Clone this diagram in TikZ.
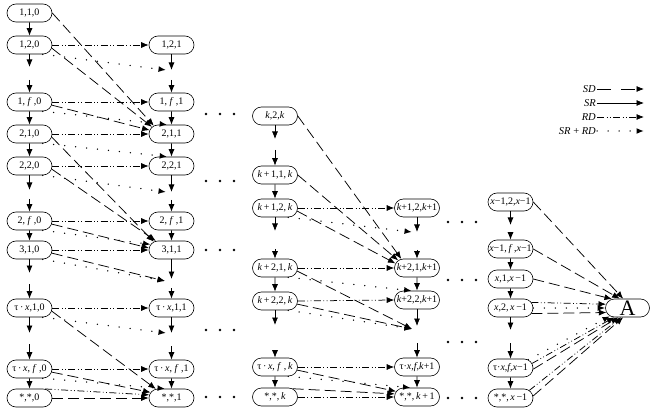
\documentclass[tikz,border=0pt]{standalone}
\usepackage{fontspec}
\setmainfont{Liberation Serif}
\usetikzlibrary{arrows.meta,shapes.misc}
\begin{document}
\begin{tikzpicture}[x=1pt,y=-1pt,
  st/.style={rounded rectangle, draw, line width=0.6pt, minimum width=46pt, minimum height=18pt, inner xsep=0.5pt, inner ysep=0pt, font=\fontsize{10}{11}\selectfont},
  ar/.style={-{Latex[length=7.5pt,width=6pt]}, line width=0.75pt},
  sr/.style={ar},
  sd/.style={ar, dash pattern=on 11pt off 5pt},
  rd/.style={ar, dash pattern=on 7pt off 2.5pt on 0.8pt off 2.5pt on 0.8pt off 2.5pt},
  srrd/.style={ar, line cap=round, dash pattern=on 0pt off 11pt, line width=1.5pt},
  lg/.style={anchor=east, inner sep=1pt, font=\fontsize{10.5}{11}\selectfont}]
\useasboundingbox (0,0) rectangle (654,409);

% ---------- column 1 ----------
\node[st] (n110) at (29.5,13) {1,1,0};
\node[st] (n120) at (29.5,45) {1,2,0};
\node[st] (n1f0) at (29.5,102) {1, \textit{f} ,0};
\node[st] (n210) at (29.5,134) {2,1,0};
\node[st] (n220) at (29.5,166) {2,2,0};
\node[st] (n2f0) at (29.5,221) {2, \textit{f} ,0};
\node[st] (n310) at (29.5,250) {3,1,0};
\node[st] (ntx10) at (29.5,308) {τ\,·\,\textit{x},1,0};
\node[st] (ntxf0) at (29.5,369) {τ\,·\,\textit{x}, \textit{f} ,0};
\node[st] (nss0) at (29.5,398) {*,*,0};

% ---------- column 2 ----------
\node[st] (n121) at (171.5,45) {1,2,1};
\node[st] (n1f1) at (171.5,102) {1, \textit{f} ,1};
\node[st] (n211) at (171.5,134) {2,1,1};
\node[st] (n221) at (171.5,166) {2,2,1};
\node[st] (n2f1) at (171.5,221) {2, \textit{f} ,1};
\node[st] (n311) at (171.5,250) {3,1,1};
\node[st] (ntx11) at (171.5,308) {τ\,·\,\textit{x},1,1};
\node[st] (ntxf1) at (171.5,369) {τ\,·\,\textit{x}, \textit{f} ,1};
\node[st] (nss1) at (171.5,398) {*,*,1};

% ---------- column 3 ----------
\node[st] (n2k) at (275,116) {\textit{k},2,\textit{k}};
\node[st] (n11k) at (275,175) {\textit{k}\,+\,1,1,\,\textit{k}};
\node[st] (n12k) at (275,208) {\textit{k}\,+\,1,2,\,\textit{k}};
\node[st] (n21k) at (275,268) {\textit{k}\,+\,2,1,\,\textit{k}};
\node[st] (n22k) at (275,301) {\textit{k}\,+\,2,2,\,\textit{k}};
\node[st] (ntxfk) at (275,367) {τ\,·\,\textit{x}, \textit{f} ,\,\textit{k}};
\node[st] (nssk) at (275,397) {*,*,\,\textit{k}};

% ---------- column 4 ----------
\node[st] (n12k1) at (417,208) {\textit{k}+1,2,\textit{k}+1};
\node[st] (n21k1) at (417,268) {\textit{k}+2,1,\textit{k}+1};
\node[st] (n22k1) at (417,300) {\textit{k}+2,2,\textit{k}+1};
\node[st] (ntxfk1) at (417,367) {τ·\textit{x},\textit{f},\textit{k}+1};
\node[st] (nssk1) at (417,397) {*,*,\,\textit{k}\,+\,1};

% ---------- column 5 ----------
\node[st] (n2x) at (510.5,202) {\textit{x}−1,2,\textit{x}−1};
\node[st] (nfx) at (510.5,249) {\textit{x}−1,\,\textit{f}\,,\textit{x}−1};
\node[st] (n1x) at (510.5,279) {\textit{x},1,\textit{x}\,−1};
\node[st] (n22x) at (510.5,308) {\textit{x},2,\,\textit{x}\,−1};
\node[st] (ntxfx) at (510.5,368) {τ·\textit{x},\textit{f},\textit{x}−1};
\node[st] (nssx) at (510.5,398) {*,*,\,\textit{x}\,−1};

\node[st, minimum width=45pt, font=\fontsize{22}{22}\selectfont, text height=14pt, text depth=0pt, inner ysep=2pt] (A) at (627.5,308) {A};

% ---------- gap coordinates ----------
\coordinate (g1a) at (29.5,67);  \coordinate (s1a) at (29.5,80);
\coordinate (g1b) at (29.5,190); \coordinate (s1b) at (29.5,199);
\coordinate (g1c) at (29.5,273); \coordinate (s1c) at (29.5,284);
\coordinate (g1d) at (29.5,333); \coordinate (s1d) at (29.5,344);

\coordinate (g2a) at (171.5,70);  \coordinate (g2ad) at (166,70);  \coordinate (s2a) at (171.5,80);
\coordinate (g2b) at (171.5,192); \coordinate (g2bd) at (166,192); \coordinate (s2b) at (171.5,200);
\coordinate (g2c) at (171.5,279); \coordinate (g2cd) at (165,281); \coordinate (s2c) at (171.5,288);
\coordinate (g2d) at (171.5,333); \coordinate (g2dd) at (166,333); \coordinate (s2d) at (171.5,346);

\coordinate (g3a) at (275,139); \coordinate (s3a) at (275,150);
\coordinate (g3b) at (275,231); \coordinate (s3b) at (275,249);
\coordinate (g3c) at (275,325); \coordinate (s3c) at (275,350);

\coordinate (g4a) at (417,232); \coordinate (g4ad) at (412,232); \coordinate (s4a) at (417,250);
\coordinate (g4b) at (417,326); \coordinate (g4bd) at (412,329); \coordinate (s4b) at (417,343);

\coordinate (g5a) at (510.5,225); \coordinate (s5a) at (510.5,232);
\coordinate (g5b) at (510.5,330); \coordinate (s5b) at (510.5,343);

% ---------- vertical SR arrows ----------
\draw[sr] (n110) -- (n120);
\draw[sr] (n120) -- (g1a);  \draw[sr] (s1a) -- (n1f0);
\draw[sr] (n1f0) -- (n210);
\draw[sr] (n210) -- (n220);
\draw[sr] (n220) -- (g1b);  \draw[sr] (s1b) -- (n2f0);
\draw[sr] (n2f0) -- (n310);
\draw[sr] (n310) -- (g1c);  \draw[sr] (s1c) -- (ntx10);
\draw[sr] (ntx10) -- (g1d); \draw[sr] (s1d) -- (ntxf0);
\draw[sr] (ntxf0) -- (nss0);

\draw[sr] (n121) -- (g2a);  \draw[sr] (s2a) -- (n1f1);
\draw[sr] (n1f1) -- (n211);
\draw[sr] (n211) -- (n221);
\draw[sr] (n221) -- (g2b);  \draw[sr] (s2b) -- (n2f1);
\draw[sr] (n2f1) -- (n311);
\draw[sr] (n311) -- (g2c);  \draw[sr] (s2c) -- (ntx11);
\draw[sr] (ntx11) -- (g2d); \draw[sr] (s2d) -- (ntxf1);
\draw[sr] (ntxf1) -- (nss1);

\draw[sr] (n2k) -- (g3a);   \draw[sr] (s3a) -- (n11k);
\draw[sr] (n11k) -- (n12k);
\draw[sr] (n12k) -- (g3b);  \draw[sr] (s3b) -- (n21k);
\draw[sr] (n21k) -- (n22k);
\draw[sr] (n22k) -- (g3c);  \draw[sr] (s3c) -- (ntxfk);
\draw[sr] (ntxfk) -- (nssk);

\draw[sr] (n12k1) -- (g4a); \draw[sr] (s4a) -- (n21k1);
\draw[sr] (n21k1) -- (n22k1);
\draw[sr] (n22k1) -- (g4b); \draw[sr] (s4b) -- (ntxfk1);
\draw[sr] (ntxfk1) -- (nssk1);

\draw[sr] (n2x) -- (g5a);   \draw[sr] (s5a) -- (nfx);
\draw[sr] (nfx) -- (n1x);
\draw[sr] (n1x) -- (n22x);
\draw[sr] (n22x) -- (g5b);  \draw[sr] (s5b) -- (ntxfx);
\draw[sr] (ntxfx) -- (nssx);

% ---------- column 1 -> column 2 ----------
\draw[sd] (n110.east) -- (n211.155);
\draw[rd] (n120.east) -- (n121.west);
\draw[srrd] (n120.-35) -- (g2ad);
\draw[sd] (n120.-8) -- (n211.160);
\draw[rd] (n1f0.east) -- (n1f1.west);
\draw[srrd] (n1f0.-35) -- (n211.115);
\draw[sd] (n1f0.-8) -- (n211.170);
\draw[rd] (n210.east) -- (n211.west);
\draw[srrd] (n210.-35) -- (n221.115);
\draw[sd] (n210.-8) -- (n311.155);
\draw[rd] (n220.east) -- (n221.west);
\draw[srrd] (n220.-35) -- (g2bd);
\draw[sd] (n220.-8) -- (n311.150);
\draw[rd] (n2f0.east) -- (n2f1.west);
\draw[srrd] (n2f0.-35) -- (n311.165);
\draw[sd] (n2f0.-8) -- (n311.175);
\draw[rd] (n310.east) -- (n311.west);
\draw[srrd] (n310.-35) -- (g2cd);
\draw[sd] (n310.-8) -- (g2cd);
\draw[rd] (ntx10.east) -- (ntx11.west);
\draw[srrd] (ntx10.-35) -- (g2dd);
\draw[sd] (ntx10.-8) -- (nss1.150);
\draw[rd] (ntxf0.east) -- (ntxf1.west);
\draw[srrd] (ntxf0.-35) -- (nss1.125);
\draw[sd] (ntxf0.-8) -- (nss1.165);
\draw[rd] (nss0.30) -- (nss1.172);
\draw[sd] (nss0.east) -- (nss1.west);

% ---------- column 3 -> column 4 ----------
\draw[sd] (n2k.east) -- (n21k1.150);
\draw[sd] (n11k.east) -- (n21k1.158);
\draw[rd] (n12k.east) -- (n12k1.west);
\draw[srrd] (n12k.-35) -- (g4ad);
\draw[sd] (n12k.-8) -- (n21k1.168);
\draw[rd] (n21k.east) -- (n21k1.west);
\draw[srrd] (n21k.-35) -- (n22k1.120);
\draw[sd] (n21k.-8) -- (g4bd);
\draw[rd] (n22k.east) -- (n22k1.west);
\draw[srrd] (n22k.-35) -- (g4bd);
\draw[sd] (n22k.-8) -- (g4bd);
\draw[rd] (ntxfk.east) -- (ntxfk1.west);
\draw[srrd] (ntxfk.-35) -- (nssk1.125);
\draw[sd] (ntxfk.-8) -- (nssk1.165);
\draw[sd] (nssk.25) -- (nssk1.172);
\draw[rd] (nssk.east) -- (nssk1.west);

% ---------- column 5 -> A ----------
\draw[sd] (n2x.east) -- (A.115);
\draw[sd] (nfx.east) -- (A.130);
\draw[sd] (n1x.east) -- (A.150);
\draw[rd] (n22x.15) -- (A.170);
\draw[srrd] (n22x.east) -- (A.west);
\draw[sd] (n22x.-15) -- (A.192);
\draw[srrd] (ntxfx.25) -- (A.205);
\draw[rd] (ntxfx.12) -- (A.215);
\draw[sd] (ntxfx.-3) -- (A.225);
\draw[rd] (nssx.22) -- (A.235);
\draw[sd] (nssx.5) -- (A.245);

% ---------- ellipsis dots ----------
\foreach \yy in {114,181,250,330,397} {
  \foreach \xx in {206,220,234} { \fill (\xx,\yy) circle (1.3pt); }
}
\foreach \yy in {222,280,342,398} {
  \foreach \xx in {448,462,476} { \fill (\xx,\yy) circle (1.3pt); }
}

% ---------- legend ----------
\node[lg] (lsd) at (597,89) {\textit{SD}};
\node[lg] (lsr) at (597,103) {\textit{SR}};
\node[lg] (lrd) at (597,117) {\textit{RD}};
\node[lg] (lsrrd) at (597,131) {\textit{SR} + \textit{RD}};
\coordinate (esd) at (644,89);
\coordinate (esr) at (644,103);
\coordinate (erd) at (644,117);
\coordinate (esrrd) at (644,131);
\draw[ar, dash pattern=on 14pt off 10pt] (lsd.east) -- (esd);
\draw[sr] (lsr.east) -- (esr);
\draw[rd] (lrd.east) -- (erd);
\draw[srrd] (lsrrd.east) -- (esrrd);
\end{tikzpicture}
\end{document}
